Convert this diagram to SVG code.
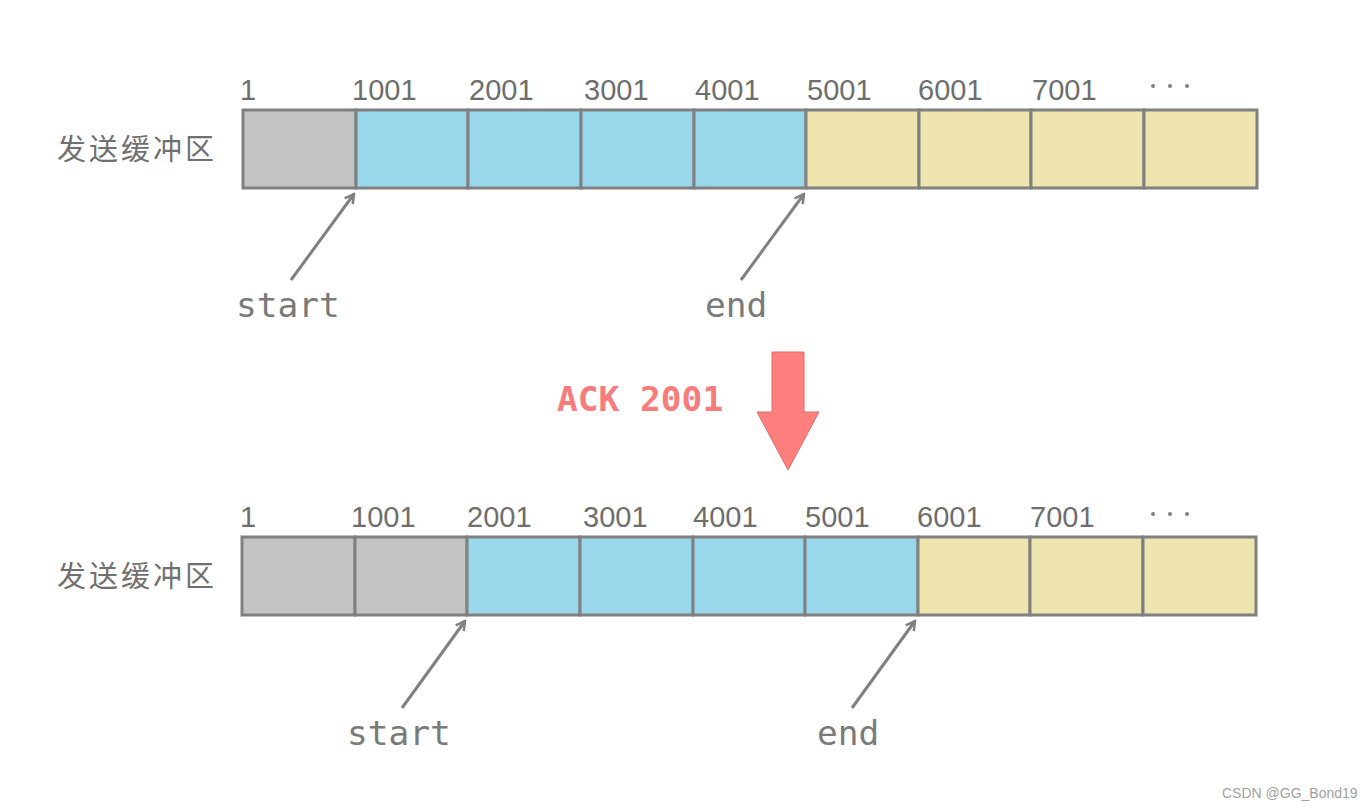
<svg xmlns="http://www.w3.org/2000/svg" width="1370" height="810" viewBox="0 0 1370 810">
<defs>
<style>
.cell{stroke:#808080;stroke-width:3}
.g{fill:#c3c3c3}.b{fill:#99d8ea}.y{fill:#eee4ae}
.num{font-family:"Liberation Sans",Arial,sans-serif;font-size:29px;fill:#6e6e6e}
.cn{font-family:"Noto Sans CJK SC",sans-serif;font-size:29px;fill:#707070;letter-spacing:3px}
.lbl{font-family:"DejaVu Sans Mono","Liberation Mono",monospace;font-size:34.5px;fill:#7a7a7a}
.ptr{stroke:#808080;stroke-width:3;fill:none;marker-end:url(#ah)}
</style>
<marker id="ah" viewBox="0 0 12 12" refX="10" refY="6" markerWidth="12" markerHeight="12" markerUnits="userSpaceOnUse" orient="auto">
<path d="M1,1 L10,6 L1,11" fill="none" stroke="#808080" stroke-width="2.5"/>
</marker>
</defs>
<rect width="1370" height="810" fill="#fff"/>

<g id="buffer1">
<text class="cn" x="57" y="160">发送缓冲区</text>
<rect class="cell g" x="243" y="110" width="113" height="78"/>
<rect class="cell b" x="356" y="110" width="112" height="78"/>
<rect class="cell b" x="468" y="110" width="113" height="78"/>
<rect class="cell b" x="581" y="110" width="113" height="78"/>
<rect class="cell b" x="694" y="110" width="112" height="78"/>
<rect class="cell y" x="806" y="110" width="113" height="78"/>
<rect class="cell y" x="919" y="110" width="112" height="78"/>
<rect class="cell y" x="1031" y="110" width="113" height="78"/>
<rect class="cell y" x="1144" y="110" width="113" height="78"/>
<text class="num" x="240" y="100">1</text>
<text class="num" x="352" y="100">1001</text>
<text class="num" x="469" y="100">2001</text>
<text class="num" x="584" y="100">3001</text>
<text class="num" x="695" y="100">4001</text>
<text class="num" x="807" y="100">5001</text>
<text class="num" x="918" y="100">6001</text>
<text class="num" x="1032" y="100">7001</text>
<g fill="#808080"><circle cx="1153" cy="86" r="2"/><circle cx="1170" cy="86" r="2"/><circle cx="1187" cy="86" r="2"/></g>
<text class="lbl" x="236" y="317">start</text>
<text class="lbl" x="705" y="317">end</text>
</g>

<g id="buffer2">
<text class="cn" x="57" y="587">发送缓冲区</text>
<rect class="cell g" x="242" y="537" width="113" height="78"/>
<rect class="cell g" x="355" y="537" width="112" height="78"/>
<rect class="cell b" x="467" y="537" width="113" height="78"/>
<rect class="cell b" x="580" y="537" width="113" height="78"/>
<rect class="cell b" x="693" y="537" width="112" height="78"/>
<rect class="cell b" x="805" y="537" width="113" height="78"/>
<rect class="cell y" x="918" y="537" width="112" height="78"/>
<rect class="cell y" x="1030" y="537" width="113" height="78"/>
<rect class="cell y" x="1143" y="537" width="113" height="78"/>
<text class="num" x="240" y="527">1</text>
<text class="num" x="351" y="527">1001</text>
<text class="num" x="467" y="527">2001</text>
<text class="num" x="583" y="527">3001</text>
<text class="num" x="693" y="527">4001</text>
<text class="num" x="805" y="527">5001</text>
<text class="num" x="917" y="527">6001</text>
<text class="num" x="1030" y="527">7001</text>
<g fill="#808080"><circle cx="1153" cy="514" r="2"/><circle cx="1170" cy="514" r="2"/><circle cx="1187" cy="514" r="2"/></g>
<text class="lbl" x="347" y="745">start</text>
<text class="lbl" x="817" y="745">end</text>
</g>

<g id="ack">
<text x="557" y="411" font-family="'DejaVu Sans Mono','Liberation Mono',monospace" font-size="34.5" font-weight="bold" fill="#f87c7c">ACK 2001</text>
<path d="M772,352 L804,352 L804,412 L819,412 L788,470 L757,412 L772,412 Z" fill="#ff7f7f" stroke="#e06a6a" stroke-width="1"/>
</g>

<g id="connectors">
<line class="ptr" x1="291" y1="280" x2="354" y2="194"/>
<line class="ptr" x1="741" y1="280" x2="804" y2="194"/>
<line class="ptr" x1="402" y1="708" x2="465" y2="621"/>
<line class="ptr" x1="852" y1="708" x2="915" y2="621"/>
</g>

<text x="1222" y="798" font-family="'Liberation Sans',Arial,sans-serif" font-size="14" fill="#a0a0a0">CSDN @GG_Bond19</text>
</svg>
